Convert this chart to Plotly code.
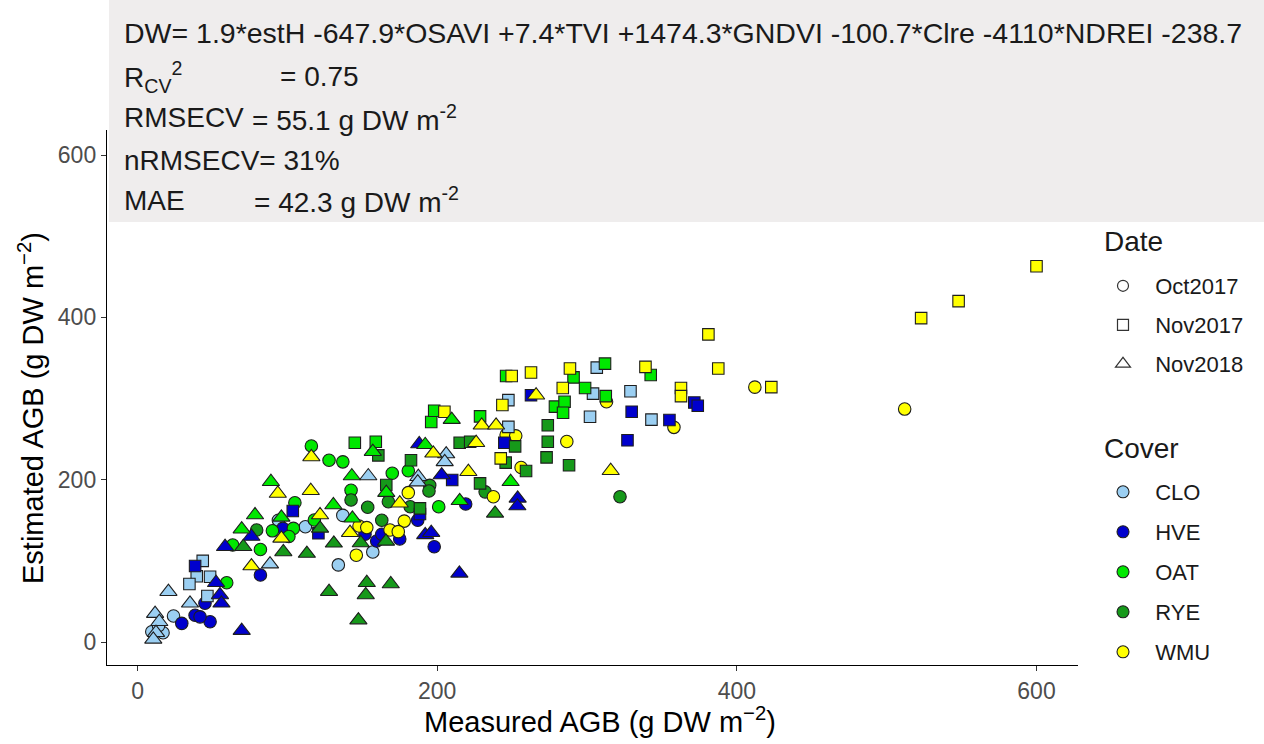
import plotly.graph_objects as go

# Measured vs. estimated above-ground biomass (g DW m-2) by cover crop and sampling date

# CLO
clo_oct_x = [9.5, 17, 24, 14, 112, 137, 134, 157, 94]
clo_oct_y = [12.7, 11.5, 32, 20, 142, 156, 95, 111, 150]
clo_nov17_x = [43.5, 39.5, 48.4, 34.6, 46.6, 247.5, 247.5, 302, 304, 306.5, 329, 343]
clo_nov17_y = [100, 81, 80.5, 71.5, 56.7, 298, 265, 277.6, 306, 338, 309, 274]
clo_nov18_x = [11.7, 14.5, 12.3, 10.5, 20.6, 35, 88.4, 154, 187.4, 187, 206, 205]
clo_nov18_y = [35, 25, 11.5, 3.3, 62, 47.7, 96, 204.5, 203.6, 197, 231.6, 222]

# HVE
hve_oct_x = [45, 38.4, 48.4, 41.7, 29.5, 82, 97, 151.8, 159.6, 163, 175, 198, 187, 219]
hve_oct_y = [47.7, 33, 25, 31, 23, 82.5, 140, 132.7, 124.4, 132.7, 127, 117.4, 150, 170]
hve_nov17_x = [38.4, 103.6, 120.7, 188.5, 210, 244.8, 262.6, 329.8, 355, 371.6, 373.9, 327]
hve_nov17_y = [93.6, 161.4, 134, 157.7, 199.6, 245.5, 304, 283.7, 273.5, 295, 291, 248.5]
hve_nov18_x = [52.4, 55, 56, 58.4, 76, 69.5, 188, 203, 253.7, 253.5, 214.8, 192, 196]
hve_nov18_y = [73, 58, 47.7, 117.4, 130, 14, 244, 205.7, 177, 167.5, 84.6, 132, 134.7]

# OAT
oat_oct_x = [116, 127.8, 137, 105, 118, 104, 90, 63.5, 82, 101, 59.5, 142.5, 170, 180.7, 201]
oat_oct_y = [241.5, 224, 222, 171.6, 150.3, 140, 137, 119.5, 114, 130, 73, 187, 208, 211, 166.7]
oat_nov17_x = [145, 159, 196, 198, 228.6, 246, 278.6, 285, 284, 291, 298.7, 312, 312.5, 342.5]
oat_nov17_y = [245.5, 246.8, 271, 285, 278, 327.7, 290, 296, 282.5, 326, 313, 343, 303, 329]
oat_nov18_x = [89, 78.4, 96, 130.7, 69.5, 157, 192, 143, 166, 143.4, 215, 249, 209.7]
oat_nov18_y = [197.5, 156.5, 153.6, 168.8, 139, 234.5, 243, 204.5, 184, 152.4, 174, 197.5, 274]

# RYE
rye_oct_x = [79.5, 232, 195, 194.5, 167.4, 142.5, 153.6, 182, 163, 322]
rye_oct_y = [138, 185, 193, 186, 172.8, 175, 166, 166.7, 150, 179]
rye_nov17_x = [160.7, 182.5, 228.6, 166, 188.5, 215, 222, 252, 273.8, 273.8, 273, 245.7, 259.3, 288]
rye_nov17_y = [230, 224, 195.5, 193.4, 164.7, 245.5, 246.8, 241, 267, 246.8, 227.5, 221, 210.7, 217.8]
rye_nov18_x = [121.8, 70.6, 97.3, 113, 131, 127.8, 149, 165.8, 238.6, 153, 169, 152.3, 147.4]
rye_nov18_y = [140, 117.4, 111, 109, 121.6, 62, 122, 124, 158.5, 73, 71.5, 58, 27]

# WMU
wmu_oct_x = [237.5, 256, 180.7, 178, 147.8, 153, 168.5, 174, 146, 246, 252.4, 286.5, 313, 358, 412, 512]
wmu_oct_y = [179, 215, 184, 149, 143, 141, 138, 136, 107, 255, 254, 247, 296, 264.5, 314, 287]
wmu_nov17_x = [600, 523, 548, 423, 381, 288.6, 339, 387.6, 283.8, 362.7, 362.7, 249.7, 262.6, 243.5, 204.8, 242.4]
wmu_nov17_y = [463, 399, 420, 314, 379, 337, 339, 337, 313, 313, 303, 327.7, 332, 292, 283.7, 226.3]
wmu_nov18_x = [116, 93.6, 115.6, 121.8, 96, 76, 141.8, 175, 197.4, 220.8, 229.7, 239.3, 226, 266, 315.8]
wmu_nov18_y = [228, 183, 186.4, 156.5, 127.7, 93.6, 134.7, 171, 232.5, 209.8, 267, 267, 245.5, 304, 211]

dates = ["Oct2017", "Nov2017", "Nov2018"]
covers = ["CLO", "HVE", "OAT", "RYE", "WMU"]

groups = {
    ("CLO", "Oct2017"): (clo_oct_x, clo_oct_y),
    ("CLO", "Nov2017"): (clo_nov17_x, clo_nov17_y),
    ("CLO", "Nov2018"): (clo_nov18_x, clo_nov18_y),
    ("HVE", "Oct2017"): (hve_oct_x, hve_oct_y),
    ("HVE", "Nov2017"): (hve_nov17_x, hve_nov17_y),
    ("HVE", "Nov2018"): (hve_nov18_x, hve_nov18_y),
    ("OAT", "Oct2017"): (oat_oct_x, oat_oct_y),
    ("OAT", "Nov2017"): (oat_nov17_x, oat_nov17_y),
    ("OAT", "Nov2018"): (oat_nov18_x, oat_nov18_y),
    ("RYE", "Oct2017"): (rye_oct_x, rye_oct_y),
    ("RYE", "Nov2017"): (rye_nov17_x, rye_nov17_y),
    ("RYE", "Nov2018"): (rye_nov18_x, rye_nov18_y),
    ("WMU", "Oct2017"): (wmu_oct_x, wmu_oct_y),
    ("WMU", "Nov2017"): (wmu_nov17_x, wmu_nov17_y),
    ("WMU", "Nov2018"): (wmu_nov18_x, wmu_nov18_y),
}

cover_colors = {"CLO": "#9BCFF2", "HVE": "#0000CD", "OAT": "#00E800",
                "RYE": "#16991A", "WMU": "#FFFF00"}
date_symbols = {"Oct2017": "circle", "Nov2017": "square", "Nov2018": "triangle-up"}
date_sizes = {"Oct2017": 12.5, "Nov2017": 11.5, "Nov2018": 15}

FONT = "Liberation Sans, Arial, sans-serif"
OUTLINE = "#1E1E1E"

fig = go.Figure()

for date in dates:
    for cover in covers:
        xs, ys = groups[(cover, date)]
        fig.add_trace(go.Scatter(
            x=xs, y=ys, mode="markers", showlegend=False, hoverinfo="skip",
            marker=dict(symbol=date_symbols[date], size=date_sizes[date],
                        color=cover_colors[cover],
                        line=dict(color=OUTLINE, width=1.1)),
        ))

# page geometry (pixels) used to place the legends, titles and the text panel
W, H = 1264, 744
ML, MR, MT, MB = 107, 186, 130, 79
PW, PH = W - ML - MR, H - MT - MB


def px_x(px):
    return (px - ML) / PW


def px_y(py):
    return (H - MB - py) / PH


# legend entries: one small legend per key so the rows can be spaced freely
legend_rows = [
    ("Oct2017", dict(symbol="circle-open", size=11, color="#333333", line=dict(width=1.2)), 286),
    ("Nov2017", dict(symbol="square-open", size=11, color="#333333", line=dict(width=1.2)), 325),
    ("Nov2018", dict(symbol="triangle-up-open", size=13, color="#333333", line=dict(width=1.2)), 364),
]
for cover, py in zip(covers, [492, 532, 572, 612, 652]):
    legend_rows.append((cover, dict(symbol="circle", size=12, color=cover_colors[cover],
                                    line=dict(color=OUTLINE, width=1.1)), py))

legend_layout = {}
for i, (name, marker, py) in enumerate(legend_rows):
    key = "legend" if i == 0 else f"legend{i + 1}"
    fig.add_trace(go.Scatter(x=[None], y=[None], mode="markers", name="\u00a0\u00a0" + name,
                             marker=marker, legend=key, showlegend=True, hoverinfo="skip"))
    legend_layout[key] = dict(x=px_x(1103), xanchor="left", y=px_y(py), yanchor="middle",
                              bgcolor="rgba(0,0,0,0)", borderwidth=0,
                              font=dict(family=FONT, size=22, color="#1A1A1A"))

annotations = []


def note(text, px, py, size=28, color="#1A1A1A", xanchor="left", angle=0):
    annotations.append(dict(text=text, x=px_x(px), y=px_y(py), xref="paper", yref="paper",
                            xanchor=xanchor, yanchor="middle", showarrow=False,
                            textangle=angle,
                            font=dict(family=FONT, size=size, color=color)))


# model equation and cross-validation statistics
note("DW= 1.9*estH -647.9*OSAVI +7.4*TVI +1474.3*GNDVI -100.7*Clre -4110*NDREI -238.7",
     122, 33, size=28.5)
note("R<sub>CV</sub><sup>2</sup>", 122, 77)
note("= 0.75", 278, 77)
note("RMSECV", 122, 118)
note("= 55.1 g DW m<sup>-2</sup>", 250, 118)
note("nRMSECV= 31%", 122, 160)
note("MAE", 122, 200)
note("= 42.3 g DW m<sup>-2</sup>", 252, 200)

# legend headings
note("Date", 1102, 242)
note("Cover", 1102, 448)

# axis titles
note("Measured AGB (g DW m<sup>\u22122</sup>)", 600, 720, size=29, color="#000000",
     xanchor="center")
note("Estimated AGB (g DW m<sup>\u22122</sup>)", 31, 408, size=29, color="#000000",
     xanchor="center", angle=-90)

axis_common = dict(
    showline=True, linecolor="#000000", linewidth=1.4, mirror=False,
    ticks="outside", ticklen=5, tickwidth=1.2, tickcolor="#333333",
    tickfont=dict(family=FONT, size=23, color="#4D4D4D"),
    showgrid=False, zeroline=False, tickvals=[0, 200, 400, 600],
)

fig.update_layout(
    width=W, height=H, autosize=False,
    margin=dict(l=ML, r=MR, t=MT, b=MB, pad=0),
    paper_bgcolor="#FFFFFF", plot_bgcolor="#FFFFFF",
    font=dict(family=FONT),
    xaxis=dict(range=[-20.4, 627.7], **axis_common),
    yaxis=dict(range=[-28.3, 630.8], **axis_common),
    shapes=[dict(type="rect", xref="paper", yref="paper",
                 x0=px_x(109), x1=px_x(1264), y0=px_y(222), y1=px_y(0),
                 fillcolor="#EFEDED", line=dict(width=0), layer="below")],
    annotations=annotations,
    **legend_layout,
)

fig.write_html("out.html")
